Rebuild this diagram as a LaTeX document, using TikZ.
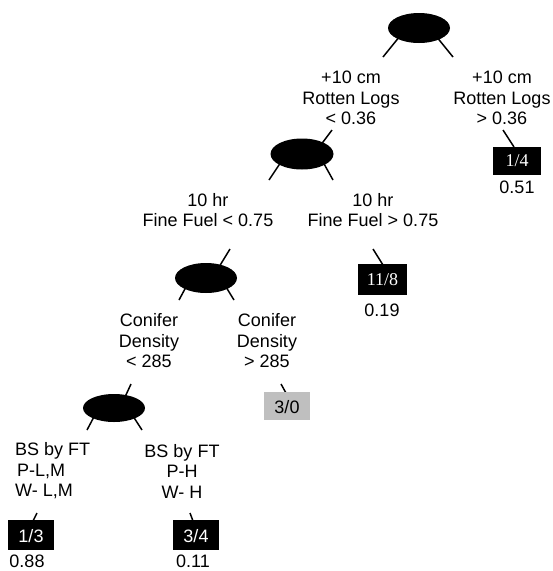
\documentclass[tikz,border=0pt]{standalone}
\usepackage{fontspec}
\setmainfont{Liberation Sans}
\newfontfamily\serifbox{Liberation Serif}
\usetikzlibrary{shapes.geometric}
\tikzset{
  split/.style={ellipse, fill=black, minimum width=62pt, minimum height=30pt, inner sep=0pt},
  lbl/.style={align=center, font=\fontsize{18}{20.5}\selectfont, inner sep=0pt},
  leaf/.style={fill=black, text=white, minimum width=47pt, minimum height=29pt, inner sep=0pt, font=\fontsize{18}{20}\selectfont},
  leafserif/.style={leaf, font=\fontsize{18}{20}\selectfont\serifbox},
  leafgray/.style={leaf, fill=gray!50, text=black},
  val/.style={font=\fontsize{18}{20}\selectfont, inner sep=0pt},
  seg/.style={line width=1.5pt}
}
\newcommand{\lowtext}[1]{\raisebox{-4pt}[9pt][2pt]{#1}}
\begin{document}
\begin{tikzpicture}[x=1pt,y=-1pt]
\useasboundingbox (0,0) rectangle (553,571);
% segment endpoints
\coordinate (s1a) at (400,36); \coordinate (s1b) at (383,57);
\coordinate (s2a) at (436,36); \coordinate (s2b) at (453,57);
\coordinate (s3a) at (503,130); \coordinate (s3b) at (514,147);
\coordinate (s4a) at (332,130); \coordinate (s4b) at (320,146);
\coordinate (s5a) at (281,162); \coordinate (s5b) at (269,180);
\coordinate (s6a) at (323,162); \coordinate (s6b) at (333,180);
\coordinate (s7a) at (373,249); \coordinate (s7b) at (383,265);
\coordinate (s8a) at (230,249); \coordinate (s8b) at (219,267);
\coordinate (s9a) at (186,287); \coordinate (s9b) at (179,300);
\coordinate (s10a) at (226,287); \coordinate (s10b) at (234,300);
\coordinate (s11a) at (281,384); \coordinate (s11b) at (286,393);
\coordinate (s12a) at (131,384); \coordinate (s12b) at (125,397);
\coordinate (s13a) at (96,413); \coordinate (s13b) at (87,430);
\coordinate (s14a) at (131,413); \coordinate (s14b) at (142,430);
\coordinate (s15a) at (37,513); \coordinate (s15b) at (33,521);
\coordinate (s16a) at (190,513); \coordinate (s16b) at (193,521);
\foreach \s in {s1,s2,s3,s4,s5,s6,s7,s8,s9,s10,s11,s12,s13,s14,s15,s16}
  \draw[seg] (\s a) -- (\s b);
% split nodes
\node[split] (e1) at (419,28) {};
\node[split, minimum width=63pt, minimum height=31pt] (e2) at (302,154) {};
\node[split] (e3) at (206,278) {};
\node[split, minimum height=28pt] (e4) at (114,408) {};
% labels
\node[lbl] (l1) at (351,98) {+10 cm\\Rotten Logs\\< 0.36};
\node[lbl] (l2) at (502,98) {+10 cm\\Rotten Logs\\> 0.36};
\node[lbl] (l3) at (208,210) {10 hr\\Fine Fuel < 0.75};
\node[lbl] (l4) at (373,210) {10 hr\\Fine Fuel > 0.75};
\node[lbl] (l5) at (149,341) {Conifer\\Density\\< 285};
\node[lbl] (l6) at (267,341) {Conifer\\Density\\> 285};
\node[lbl, align=left, anchor=west] (l7) at (15,471) {BS by FT\\\hspace*{2pt}P-L,M\\W- L,M};
\node[lbl] (l8) at (182,471) {BS by FT\\P-H\\W- H};
% leaves
\node[leafserif, minimum width=48pt, minimum height=28pt] (b1) at (517,160.5) {1/4};
\node[leafserif, minimum width=49pt, minimum height=31pt] (b2) at (382.5,279.5) {11/8};
\node[leafgray, minimum width=46pt, minimum height=28pt] (b3) at (287,406) {\lowtext{3/0}};
\node[leaf, minimum width=46pt, minimum height=30pt] (b4) at (31,535) {\lowtext{1/3}};
\node[leaf, minimum width=46pt, minimum height=30pt] (b5) at (196,535) {\lowtext{3/4}};
% values
\node[val] (v1) at (517,187) {0.51};
\node[val] (v2) at (382,310) {0.19};
\node[val] (v4) at (27,561.5) {0.88};
\node[val] (v5) at (193,561.5) {0.11};
\end{tikzpicture}
\end{document}
